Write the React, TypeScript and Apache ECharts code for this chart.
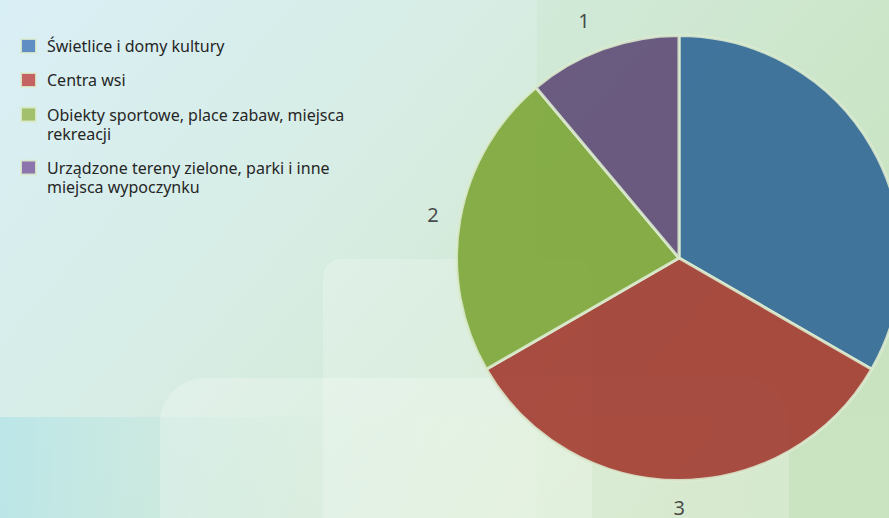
import React, { useEffect, useRef } from "react";
import * as echarts from "echarts";

const categories = [
  "Świetlice i domy kultury",
  "Centra wsi",
  "Obiekty sportowe, place zabaw, miejsca rekreacji",
  "Urządzone tereny zielone, parki i inne miejsca wypoczynku",
];
const legendLines = [
  "Świetlice i domy kultury",
  "Centra wsi",
  "Obiekty sportowe, place zabaw, miejsca\nrekreacji",
  "Urządzone tereny zielone, parki i inne\nmiejsca wypoczynku",
];
const values = [3, 3, 2, 1];
const sliceColors = ["#2e6494", "#a0352b", "#7ba433", "#5c4774"];
const legendColors = ["#4f81bd", "#c0504d", "#9bbb59", "#8064a2"];
const legendTops = [36.5, 70.5, 86, 139];

const FONT = "'Noto Sans', 'Open Sans', sans-serif";

export default function App() {
  const ref = useRef<HTMLDivElement>(null);
  useEffect(() => {
    if (!ref.current) return;
    const chart = echarts.init(ref.current, undefined, { renderer: "svg" });
    const W = 889;
    const H = 518;

    const legends = categories.map((name, i) => {
      const twoLine = legendLines[i].includes("\n");
      return {
        orient: "vertical",
        left: 20,
        top: legendTops[i],
        padding: 0,
        itemWidth: 15,
        itemHeight: 14,
        icon: "rect",
        selectedMode: false,
        data: [{ name, itemStyle: { color: legendColors[i] } }],
        formatter: () => (twoLine ? "\n" + legendLines[i] : legendLines[i]),
        textStyle: {
          fontFamily: FONT,
          fontSize: 16,
          color: "#262626",
          lineHeight: 19,
          padding: [0, 0, 0, 6],
        },
      };
    });

    const option: any = {
      animation: false,
      graphic: [
        {
          type: "rect",
          z: -10,
          silent: true,
          shape: { x: 0, y: 0, width: W, height: H },
          style: {
            fill: new echarts.graphic.LinearGradient(0, 0, 1, 0.5, [
              { offset: 0, color: "#d9eff6" },
              { offset: 0.45, color: "#d7ede4" },
              { offset: 1, color: "#cce5c5" },
            ]),
          },
        },
        {
          type: "rect",
          z: -9,
          silent: true,
          shape: { x: 537, y: 0, width: W - 537, height: H },
          style: { fill: "rgba(190,222,180,0.18)" },
        },
        {
          type: "rect",
          z: -9,
          silent: true,
          shape: { x: 0, y: 417, width: W, height: H - 417 },
          style: {
            fill: new echarts.graphic.LinearGradient(0, 0, 1, 0, [
              { offset: 0, color: "rgba(160,222,232,0.5)" },
              { offset: 0.25, color: "rgba(190,228,215,0.28)" },
              { offset: 0.6, color: "rgba(225,238,200,0.2)" },
              { offset: 1, color: "rgba(200,228,190,0.1)" },
            ]),
          },
        },
        {
          type: "rect",
          z: -8,
          silent: true,
          shape: { x: 323, y: 259, width: 269, height: 300, r: 18 },
          style: { fill: "rgba(255,255,255,0.22)" },
        },
        {
          type: "rect",
          z: -8,
          silent: true,
          shape: { x: 160, y: 378, width: 629, height: 200, r: 45 },
          style: { fill: "rgba(255,255,255,0.24)" },
        },
      ],
      legend: legends,
      series: [
        {
          type: "pie",
          center: [679, 258],
          radius: 222.5,
          startAngle: 90,
          clockwise: true,
          avoidLabelOverlap: false,
          itemStyle: { borderColor: "#dcecd0", borderWidth: 3, opacity: 0.88 },
          label: {
            show: true,
            position: "outside",
            fontFamily: FONT,
            fontSize: 20,
            color: "#333333",
            distanceToLabelLine: -5.5,
            formatter: "{c}",
          },
          labelLine: { show: false, length: 27, length2: 0 },
          emphasis: { disabled: true },
          data: categories.map((name, i) => {
            const d: any = {
              name,
              value: values[i],
              itemStyle: { color: sliceColors[i] },
            };
            if (i === 3) {
              d.label = { distanceToLabelLine: 3 };
              d.labelLine = { show: false, length: 30, length2: 0 };
            }
            return d;
          }),
        },
      ],
    };
    chart.setOption(option);
    return () => chart.dispose();
  }, []);
  return (
    <div
      ref={ref}
      style={{ position: "absolute", left: 0, top: 0, width: 889, height: 518 }}
    />
  );
}
